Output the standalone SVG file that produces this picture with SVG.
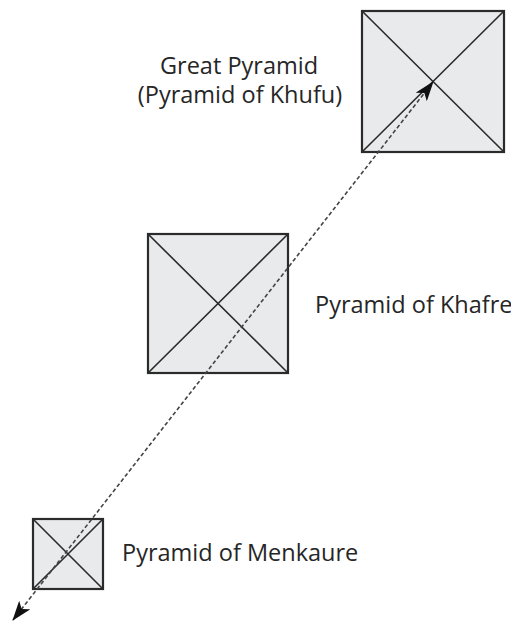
<svg xmlns="http://www.w3.org/2000/svg" width="511" height="625" viewBox="0 0 511 625">
<style>
.box{fill:#e8eaec;stroke:#2b2b2b;stroke-width:2.2}
.diag{stroke:#2b2b2b;stroke-width:1.6;fill:none}
.lbl{font-family:"Open Sans","Noto Sans",sans-serif;font-size:23.5px;fill:#262626}
.conn{stroke:#444;stroke-width:1.6;stroke-dasharray:4 2.5;fill:none}
</style>
<defs>
<marker id="ah" viewBox="0 0 20 14" refX="19" refY="7" markerWidth="20" markerHeight="14" markerUnits="userSpaceOnUse" orient="auto-start-reverse">
<path d="M0,0 L20,7 L0,14 L5,7 Z" fill="#111"/>
</marker>
</defs>
<rect width="511" height="625" fill="#fff"/>
<g id="khufu">
<rect class="box" x="362" y="11" width="142" height="141"/>
<path class="diag" d="M362,11 L504,152 M504,11 L362,152"/>
<text class="lbl" x="239" y="74" text-anchor="middle">Great Pyramid</text>
<text class="lbl" x="240" y="103" text-anchor="middle">(Pyramid of Khufu)</text>
</g>
<g id="khafre">
<rect class="box" x="148" y="234" width="140" height="139"/>
<path class="diag" d="M148,234 L288,373 M288,234 L148,373"/>
<text class="lbl" x="315" y="313">Pyramid of Khafre</text>
</g>
<g id="menkaure">
<rect class="box" x="33" y="519" width="70" height="70"/>
<path class="diag" d="M33,519 L103,589 M103,519 L33,589"/>
<text class="lbl" x="122" y="561">Pyramid of Menkaure</text>
</g>
<g id="connectors">
<line class="conn" x1="13" y1="620" x2="433" y2="82" marker-start="url(#ah)" marker-end="url(#ah)"/>
</g>
</svg>
